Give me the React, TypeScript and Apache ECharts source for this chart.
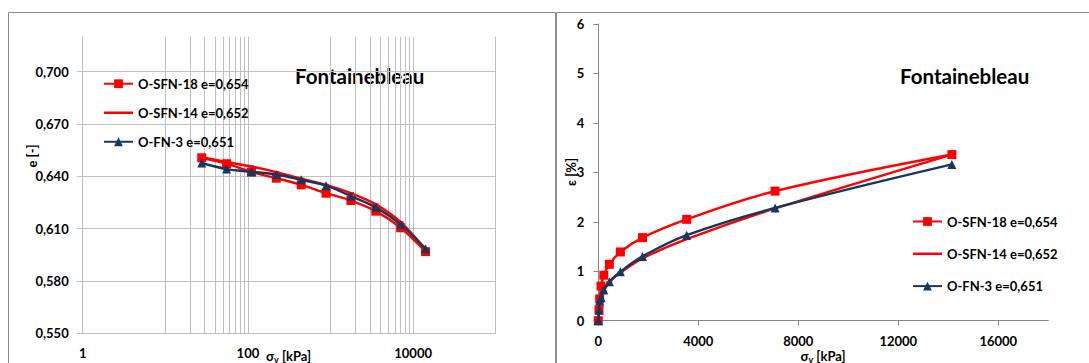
import React, { useEffect, useRef } from "react";
import * as echarts from "echarts";

const FONT = "Lato, 'Noto Sans', sans-serif";

const SERIES_NAMES = ["O-SFN-18 e=0,654", "O-SFN-14 e=0,652", "O-FN-3 e=0,651"];

// Left chart (log axis): vertical stress [kPa] and void ratio e [-]
const SIGMA_LOG = [27.6, 55.3, 110.5, 221, 442, 884, 1768, 3536, 7072, 14144];
const E_SFN18 = [0.6506, 0.6472, 0.6424, 0.6389, 0.6351, 0.6303, 0.6261, 0.62, 0.6105, 0.5968];
const E_SFN14 = [0.6509, 0.6481, 0.6456, 0.6424, 0.6386, 0.6351, 0.6303, 0.6239, 0.6137, 0.5979];
const E_FN3 = [0.6476, 0.6441, 0.6426, 0.641, 0.638, 0.6346, 0.6286, 0.6222, 0.6124, 0.5985];

// Right chart (linear axis): vertical stress [kPa] and strain [%]
const SIGMA_LIN = [0, 27.6, 55.3, 110.5, 221, 442, 884, 1768, 3536, 7072, 14144];
const EPS_SFN18 = [0, 0.22, 0.44, 0.7, 0.92, 1.14, 1.39, 1.68, 2.05, 2.62, 3.36];
const EPS_SFN14 = [0, 0.2, 0.36, 0.47, 0.6, 0.78, 0.97, 1.26, 1.65, 2.27, 3.36];
const EPS_FN3 = [0, 0.21, 0.4, 0.47, 0.62, 0.79, 0.99, 1.3, 1.73, 2.28, 3.16];

// Tick labels / gridlines
const LEFT_X_LABELS = [1, 100, 10000];
const LEFT_X_MINOR_GRID = [20, 30, 40, 50, 60, 70, 80, 90, 2000, 3000, 4000, 5000, 6000, 7000, 8000, 9000];
const LEFT_Y_TICKS = [0.55, 0.58, 0.61, 0.64, 0.67, 0.7];
const RIGHT_X_TICKS = [0, 4000, 8000, 12000, 16000];

const RED = "#FF0000";
const NAVY = "#17375E";
const GRID_GRAY = "#BFBFBF";
const AXIS_GRAY = "#868686";

const zip = (xs: number[], ys: number[]) => xs.map((x, i) => [x, ys[i]]);

const labelStyle = {
  color: "#000",
  fontWeight: "bold" as const,
  fontSize: 13,
  fontFamily: FONT,
};

function seriesStyle(idx: number) {
  if (idx === 0) return { symbol: "rect", symbolSize: 9, color: RED };
  if (idx === 1) return { symbol: "rect", symbolSize: [6, 2], color: RED };
  return { symbol: "triangle", symbolSize: 9, color: NAVY };
}

function makeSeries(name: string, idx: number, data: number[][], axis: number) {
  const s = seriesStyle(idx);
  return {
    name,
    type: "line",
    xAxisIndex: axis,
    yAxisIndex: axis,
    data,
    smooth: 0.35,
    symbol: s.symbol,
    symbolSize: s.symbolSize,
    showAllSymbol: true,
    lineStyle: { width: 2.4, color: s.color },
    itemStyle: { color: s.color },
    z: 3 + idx,
    emphasis: { disabled: true },
  };
}

const axisTitleRich = {
  a: { fontSize: 13, fontWeight: "bold", fontFamily: FONT, fill: "#000" },
  b: { fontSize: 9, fontWeight: "bold", fontFamily: FONT, fill: "#000", padding: [6, 0, 0, 0] },
};

export default function App() {
  const ref = useRef<HTMLDivElement>(null);

  useEffect(() => {
    if (!ref.current) return;
    const chart = echarts.init(ref.current, undefined, { renderer: "svg" });

    const legendData = [
      SERIES_NAMES[0],
      { name: SERIES_NAMES[1], icon: "path://M0,0 L29,0 L29,2.5 L0,2.5 Z" },
      SERIES_NAMES[2],
    ];

    const legendCommon = {
      data: legendData,
      orient: "vertical",
      itemWidth: 29,
      itemHeight: 11,
      padding: 0,
      selectedMode: false,
      textStyle: { ...labelStyle },
    };

    const titleStyle = {
      text: "Fontainebleau",
      fontSize: 20.5,
      fontWeight: "bold",
      fontFamily: FONT,
      fill: "#000",
      align: "left",
      verticalAlign: "middle",
    };

    const option = {
      animation: false,
      backgroundColor: "#FFFFFF",
      grid: [
        { left: 82.7, top: 36.7, width: 413, height: 296.6 },
        { left: 598.3, top: 24, width: 450, height: 296.7 },
      ],
      xAxis: [
        {
          type: "log",
          gridIndex: 0,
          logBase: 10,
          min: 1,
          max: 100000,
          axisLine: { show: true, lineStyle: { color: GRID_GRAY, width: 1 } },
          axisTick: { show: false },
          axisLabel: {
            ...labelStyle,
            margin: 13,
            formatter: (v: number) => {
              const r = Math.round(v);
              return LEFT_X_LABELS.includes(r) ? String(r) : "";
            },
          },
          splitLine: { show: true, lineStyle: { color: GRID_GRAY, width: 1 } },
        },
        {
          type: "value",
          gridIndex: 1,
          min: 0,
          max: 18000,
          interval: 4000,
          axisLine: { show: true, lineStyle: { color: AXIS_GRAY, width: 1 } },
          axisTick: { show: true, length: 5, customValues: RIGHT_X_TICKS, lineStyle: { color: AXIS_GRAY } },
          axisLabel: {
            ...labelStyle,
            margin: 14,
            customValues: RIGHT_X_TICKS,
            formatter: (v: number) => String(Math.round(v)),
          },
          splitLine: { show: false },
        },
      ],
      yAxis: [
        {
          type: "value",
          gridIndex: 0,
          min: 0.55,
          max: 0.72,
          interval: 0.03,
          axisLine: { show: true, lineStyle: { color: GRID_GRAY, width: 1 } },
          axisTick: { show: true, length: 6, customValues: LEFT_Y_TICKS, lineStyle: { color: GRID_GRAY } },
          axisLabel: {
            ...labelStyle,
            margin: 14,
            customValues: LEFT_Y_TICKS,
            formatter: (v: number) => v.toFixed(3).replace(".", ","),
          },
          splitLine: { show: true, lineStyle: { color: GRID_GRAY, width: 1 } },
        },
        {
          type: "value",
          gridIndex: 1,
          min: 0,
          max: 6,
          interval: 1,
          axisLine: { show: true, lineStyle: { color: AXIS_GRAY, width: 1 } },
          axisTick: { show: true, length: 5, lineStyle: { color: AXIS_GRAY } },
          axisLabel: { ...labelStyle, margin: 14 },
          splitLine: { show: false },
        },
      ],
      legend: [
        { ...legendCommon, left: 103, top: 77.25, itemGap: 16 },
        { ...legendCommon, left: 912, top: 215, itemGap: 19.3 },
      ],
      series: [
        {
          type: "line",
          xAxisIndex: 0,
          yAxisIndex: 0,
          data: [],
          silent: true,
          z: 1,
          markLine: {
            silent: true,
            symbol: ["none", "none"],
            label: { show: false },
            emphasis: { disabled: true },
            lineStyle: { color: GRID_GRAY, type: "solid", width: 1 },
            data: LEFT_X_MINOR_GRID.map((v) => ({ xAxis: v })),
            z: 1,
          },
        },
        makeSeries(SERIES_NAMES[0], 0, zip(SIGMA_LOG, E_SFN18), 0),
        makeSeries(SERIES_NAMES[1], 1, zip(SIGMA_LOG, E_SFN14), 0),
        makeSeries(SERIES_NAMES[2], 2, zip(SIGMA_LOG, E_FN3), 0),
        makeSeries(SERIES_NAMES[0], 0, zip(SIGMA_LIN, EPS_SFN18), 1),
        makeSeries(SERIES_NAMES[1], 1, zip(SIGMA_LIN, EPS_SFN14), 1),
        makeSeries(SERIES_NAMES[2], 2, zip(SIGMA_LIN, EPS_FN3), 1),
      ],
      graphic: [
        {
          type: "rect",
          shape: { x: 8.5, y: 12.5, width: 547, height: 400 },
          style: { fill: "none", stroke: "#8C8C8C", lineWidth: 1 },
          silent: true,
        },
        {
          type: "rect",
          shape: { x: 556.5, y: 12.5, width: 600, height: 400 },
          style: { fill: "none", stroke: "#8C8C8C", lineWidth: 1 },
          silent: true,
        },
        { type: "text", x: 295, y: 76, style: { ...titleStyle } },
        { type: "text", x: 900, y: 76, style: { ...titleStyle } },
        {
          type: "text",
          x: 32,
          y: 156,
          rotation: Math.PI / 2,
          style: { text: "e [-]", ...labelStyle, fill: "#000", align: "center", verticalAlign: "middle" },
        },
        {
          type: "text",
          x: 571,
          y: 172,
          rotation: Math.PI / 2,
          style: { text: "ε [%]", ...labelStyle, fill: "#000", align: "center", verticalAlign: "middle" },
        },
        {
          type: "text",
          x: 266,
          y: 356,
          style: { text: "{a|σ}{b|v}{a| [kPa]}", rich: axisTitleRich, align: "left", verticalAlign: "middle" },
        },
        {
          type: "text",
          x: 823,
          y: 356,
          style: { text: "{a|σ}{b|v}{a| [kPa]}", rich: axisTitleRich, align: "center", verticalAlign: "middle" },
        },
      ],
    };

    chart.setOption(option as any);
    return () => chart.dispose();
  }, []);

  return <div ref={ref} style={{ position: "fixed", left: 0, top: 0, width: 1089, height: 363 }} />;
}
